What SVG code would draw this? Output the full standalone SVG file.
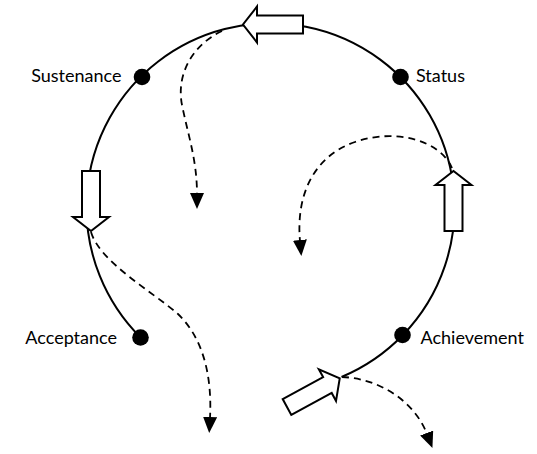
<svg xmlns="http://www.w3.org/2000/svg" width="537" height="454" viewBox="0 0 537 454">
<style>
.ring{fill:none;stroke:#000;stroke-width:2}
.dash{fill:none;stroke:#000;stroke-width:1.8;stroke-dasharray:7 5}
.blk{fill:#fff;stroke:#000;stroke-width:2;stroke-linejoin:miter}
.dot{fill:#000}
.lbl{font-family:Lato,"Liberation Sans",sans-serif;font-size:18px;fill:#000}
</style>
<defs>
<marker id="ah" viewBox="0 0 16 14" refX="1" refY="7" markerWidth="16" markerHeight="14" markerUnits="userSpaceOnUse" orient="auto">
<path d="M0,0 L16,7 L0,14 z" fill="#000"/>
</marker>
<polygon id="blockArrow" points="0,-9 46,-9 46,-18 60,0 46,18 46,9 0,9"/>
</defs>
<rect width="537" height="454" fill="#fff"/>
<g id="connectors">
<path class="ring" d="M341.5,377 A184,184 0 1 0 140.5,337.5"/>
<path class="dash" marker-end="url(#ah)" d="M222,31 C192,45 176,75 182,105 C188,135 197,160 197,194"/>
<path class="dash" marker-end="url(#ah)" d="M452,168 C440,140 395,128 355,142 C312,157 296,197 300,241"/>
<path class="dash" marker-end="url(#ah)" d="M91,232 C100,262 150,290 178,314 C205,340 212,380 210,418"/>
<path class="dash" marker-end="url(#ah)" d="M342,377 C375,378 413,398 427,434"/>
</g>
<g id="block-arrows">
<use id="arrow-top" href="#blockArrow" class="blk" transform="translate(303,24.5) rotate(180)"/>
<use id="arrow-left" href="#blockArrow" class="blk" transform="translate(91,171) rotate(90)"/>
<use id="arrow-right" href="#blockArrow" class="blk" transform="translate(453.5,231) rotate(-90)"/>
<use id="arrow-bottom" href="#blockArrow" class="blk" transform="translate(287,407) rotate(-28.5)"/>
</g>
<g id="sustenance">
<circle class="dot" cx="142" cy="77" r="8.3"/>
<text class="lbl" x="121.5" y="82" text-anchor="end">Sustenance</text>
</g>
<g id="status">
<circle class="dot" cx="400.5" cy="77" r="8.3"/>
<text class="lbl" x="416" y="82">Status</text>
</g>
<g id="acceptance">
<circle class="dot" cx="140.5" cy="337.5" r="8.3"/>
<text class="lbl" x="117" y="344" text-anchor="end">Acceptance</text>
</g>
<g id="achievement">
<circle class="dot" cx="402.5" cy="335" r="8.3"/>
<text class="lbl" x="420.5" y="344">Achievement</text>
</g>
</svg>
